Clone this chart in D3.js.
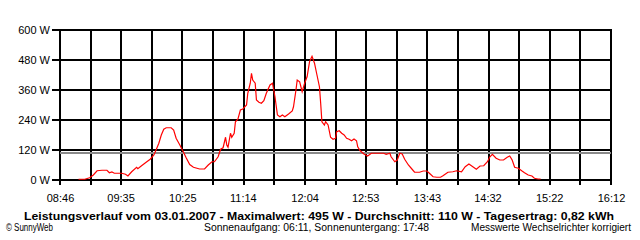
<!DOCTYPE html>
<html>
<head>
<meta charset="utf-8">
<script src="https://cdn.jsdelivr.net/npm/d3@7"></script>
<style>
    body { margin: 0; background: #fff; }
    svg { display: block; }
    text { font-family: "Liberation Sans", Arial, sans-serif; fill: #000; }
</style>
</head>
<body>
<svg id="chart"></svg>
<script>
// readings of the day (time, watts)
const times = [
    "09:01","09:06","09:10","09:13","09:16","09:20","09:24","09:26","09:28","09:30",
    "09:32","09:36","09:39","09:41","09:44","09:48","09:49","09:52","09:56","09:59",
    "10:02","10:04","10:06","10:08","10:10","10:12","10:16","10:18","10:20","10:23",
    "10:26","10:28","10:31","10:34","10:39","10:43","10:46","10:49","10:51","10:54",
    "10:56","10:58","11:00","11:01","11:02","11:04","11:05","11:07","11:08","11:10",
    "11:12","11:14","11:17","11:18","11:20","11:21","11:22","11:24","11:25","11:27",
    "11:29","11:31","11:33","11:36","11:38","11:39","11:40","11:42","11:44","11:46",
    "11:48","11:51","11:54","11:55","11:57","11:58","12:00","12:02","12:04","12:06",
    "12:08","12:10","12:12","12:14","12:16","12:17","12:18","12:20","12:21","12:23",
    "12:25","12:27","12:29","12:30","12:32","12:34","12:36","12:38","12:40","12:42",
    "12:44","12:46","12:47","12:49","12:52","12:55","12:58","13:02","13:08","13:10",
    "13:13","13:14","13:17","13:19","13:21","13:23","13:25","13:28","13:31","13:33",
    "13:37","13:40","13:43","13:45","13:48","13:51","13:54","13:56","14:00","14:04",
    "14:07","14:11","14:14","14:17","14:19","14:23","14:26","14:29","14:32","14:34",
    "14:36","14:39","14:42","14:45","14:48","14:50","14:52","14:54","14:57","15:00",
    "15:02","15:05","15:08","15:10","15:13","15:15"
];
const watts = [
    3,3,9,20,37,39,39,29,32,27,
    27,27,23,16,33,51,45,57,72,83,
    100,123,147,180,203,209,209,200,167,140,
    111,90,62,51,44,44,60,73,73,93,
    123,129,171,140,131,187,171,187,233,243,
    280,284,300,347,387,427,400,387,320,311,
    307,317,347,380,387,360,333,260,253,260,
    253,264,276,293,360,400,393,353,387,413,
    473,495,467,420,373,307,233,220,233,220,
    171,163,167,193,197,187,180,167,163,157,
    164,157,133,117,104,96,107,107,107,103,
    107,93,73,80,107,104,83,60,43,31,
    31,36,36,27,13,11,11,17,31,33,
    37,33,53,64,57,43,56,57,73,93,
    103,87,80,80,91,96,80,51,47,36,
    29,20,16,7,4,4
];
const average = 110;
const yTicks = [0, 120, 240, 360, 480, 600];
const xTickLabels = ["08:46","09:35","10:25","11:14","12:04","12:53","13:43","14:32","15:22","16:12"];

const title = "Leistungsverlauf vom 03.01.2007 - Maximalwert: 495 W - Durchschnitt: 110 W - Tagesertrag: 0,82 kWh";
const footLeft = "\u00A9 SunnyWeb";
const footMid = "Sonnenaufgang: 06:11, Sonnenuntergang: 17:48";
const footRight = "Messwerte Wechselrichter korrigiert";

const width = 640;
const height = 240;

const toMin = s => { const [h, m] = s.split(':'); return +h * 60 + +m; };

const t0 = toMin(xTickLabels[0]);
const t1 = toMin(xTickLabels[xTickLabels.length - 1]);

const x = d3.scaleLinear().domain([t0, t1]).range([60, 611]);
const y = d3.scaleLinear().domain([0, 600]).range([180, 30]);

const svg = d3.select('#chart')
    .attr('width', width)
    .attr('height', height);

// grid: one line every half label step
const gridTimes = d3.range(2 * (xTickLabels.length - 1) + 1).map(i => t0 + i * (t1 - t0) / (2 * (xTickLabels.length - 1)));

svg.append('g')
    .selectAll('line')
    .data(gridTimes)
    .enter().append('line')
    .attr('x1', d => x(d)).attr('x2', d => x(d))
    .attr('y1', y(600) - 1).attr('y2', y(0) + 5)
    .style('stroke', '#000')
    .style('stroke-width', 2)
    .style('shape-rendering', 'crispEdges');

svg.append('g')
    .selectAll('line')
    .data(yTicks)
    .enter().append('line')
    .attr('x1', x(t0) - 8).attr('x2', x(t1) + 1)
    .attr('y1', d => y(d)).attr('y2', d => y(d))
    .style('stroke', '#000')
    .style('stroke-width', 2)
    .style('shape-rendering', 'crispEdges');

svg.append('g')
    .selectAll('text')
    .data(yTicks)
    .enter().append('text')
    .attr('x', x(t0) - 10)
    .attr('y', d => y(d) + 4)
    .attr('text-anchor', 'end')
    .style('font-size', '11px')
    .text(d => d + ' W');

svg.append('g')
    .selectAll('text')
    .data(xTickLabels)
    .enter().append('text')
    .attr('x', d => x(toMin(d)) + 0.5)
    .attr('y', 202)
    .attr('text-anchor', 'middle')
    .style('font-size', '11px')
    .text(d => d);

// average line
svg.append('line')
    .attr('x1', x(t0)).attr('x2', x(t1))
    .attr('y1', y(average)).attr('y2', y(average))
    .style('stroke', '#8a8a8a')
    .style('stroke-width', 2)
    .style('shape-rendering', 'crispEdges');

const line = d3.line()
    .x(d => x(toMin(d[0])))
    .y(d => y(d[1]));

svg.append('path')
    .datum(d3.zip(times, watts))
    .attr('d', line)
    .style('fill', 'none')
    .style('stroke', '#ff0000')
    .style('stroke-width', 1.2);

svg.append('text')
    .attr('x', 24)
    .attr('y', 220)
    .attr('textLength', 590)
    .attr('lengthAdjust', 'spacingAndGlyphs')
    .style('font-weight', 'bold')
    .style('font-size', '11px')
    .text(title);

const foot = [
    { text: footLeft, x: 6, len: 47 },
    { text: footMid, x: 204, len: 225 },
    { text: footRight, x: 471, len: 160 }
];

svg.append('g')
    .selectAll('text')
    .data(foot)
    .enter().append('text')
    .attr('x', d => d.x)
    .attr('y', 231)
    .attr('textLength', d => d.len)
    .attr('lengthAdjust', 'spacingAndGlyphs')
    .style('font-size', '10px')
    .text(d => d.text);
</script>
</body>
</html>
